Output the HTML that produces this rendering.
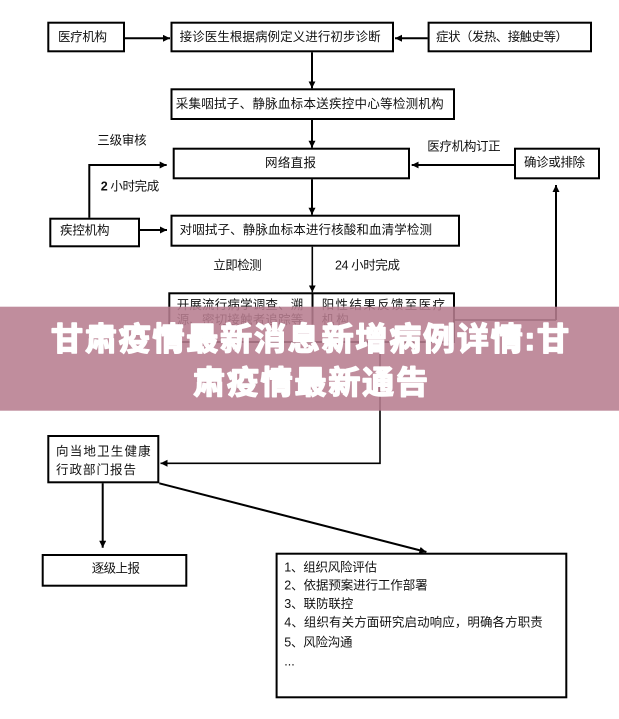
<!DOCTYPE html>
<html><head><meta charset="utf-8"><style>
html,body{margin:0;padding:0;background:#fff;}
svg{display:block;}
.t{font-family:"Liberation Sans","Noto Sans CJK SC",sans-serif;font-size:12.5px;fill:#111;dominant-baseline:central;}
.b{fill:none;stroke:#000;stroke-width:2;}
.l{fill:none;stroke:#000;stroke-width:2;}
.ttl{font-family:"Liberation Sans","Noto Sans CJK SC",sans-serif;font-size:32px;font-weight:bold;fill:#fff;stroke:#fff;stroke-width:1.5px;stroke-linejoin:round;dominant-baseline:central;}
</style></head><body>
<svg width="619" height="719" viewBox="0 0 619 719" xmlns="http://www.w3.org/2000/svg">
<defs>
<marker id="a" markerUnits="userSpaceOnUse" markerWidth="8" markerHeight="8" refX="7" refY="3.5" orient="auto">
<path d="M0,0 L7,3.5 L0,7 z" fill="#000"/>
</marker>
</defs>
<rect x="0" y="0" width="619" height="719" fill="#fff"/>

<!-- boxes -->
<rect class="b" x="48.3" y="22.7" width="75.7" height="28.6"/>
<text class="t" x="58" y="37" textLength="49" lengthAdjust="spacing">医疗机构</text>

<rect class="b" x="171.5" y="22.7" width="221.5" height="28.6"/>
<text class="t" x="179.6" y="37" textLength="201" lengthAdjust="spacing">接诊医生根据病例定义进行初步诊断</text>

<rect class="b" x="428.6" y="22.7" width="162.4" height="28.6"/>
<text class="t" x="436" y="37" textLength="132" lengthAdjust="spacing">症状（发热、接触史等）</text>

<rect class="b" x="171.5" y="89.3" width="282.5" height="29.7"/>
<text class="t" x="175.7" y="104" textLength="268" lengthAdjust="spacing">采集咽拭子、静脉血标本送疾控中心等检测机构</text>

<rect class="b" x="173.7" y="148.7" width="235.3" height="29.6"/>
<text class="t" x="265" y="163" textLength="51" lengthAdjust="spacing">网络直报</text>

<rect class="b" x="515" y="148.7" width="84" height="29.6"/>
<text class="t" x="524" y="162.7" textLength="61" lengthAdjust="spacing">确诊或排除</text>

<rect class="b" x="50.3" y="218.7" width="88.7" height="27.6"/>
<text class="t" x="60" y="230.7" textLength="49.5" lengthAdjust="spacing">疾控机构</text>

<rect class="b" x="171.5" y="215.7" width="287.5" height="30"/>
<text class="t" x="179.6" y="230" textLength="252.4" lengthAdjust="spacing">对咽拭子、静脉血标本进行核酸和血清学检测</text>

<!-- labels -->
<text class="t" x="97.3" y="140.7" textLength="49.4" lengthAdjust="spacing">三级审核</text>
<text class="t" x="100.7" y="186.7" textLength="58.6" lengthAdjust="spacing"><tspan font-weight="bold">2</tspan> 小时完成</text>
<text class="t" x="427.3" y="146.7" textLength="73.4" lengthAdjust="spacing">医疗机构订正</text>
<text class="t" x="213.3" y="265.7" textLength="48.4" lengthAdjust="spacing">立即检测</text>
<text class="t" x="335" y="265.7" textLength="65" lengthAdjust="spacing">24 小时完成</text>

<!-- connectors top -->
<line class="l" x1="125" y1="38.3" x2="170" y2="38.3" marker-end="url(#a)"/>
<line class="l" x1="427.6" y1="38.3" x2="395" y2="38.3" marker-end="url(#a)"/>
<line class="l" x1="312" y1="52.3" x2="312" y2="88.3" marker-end="url(#a)"/>
<line class="l" x1="312" y1="120" x2="312" y2="147.7" marker-end="url(#a)"/>
<line class="l" x1="312" y1="179.3" x2="312" y2="214.7" marker-end="url(#a)"/>
<polyline class="l" points="89.3,217.7 89.3,165 166.7,165" marker-end="url(#a)"/>
<line class="l" x1="140" y1="230" x2="167" y2="230" marker-end="url(#a)"/>
<line class="l" x1="514" y1="165" x2="411.7" y2="165" marker-end="url(#a)"/>
<line class="l" x1="556" y1="320" x2="556" y2="185" marker-end="url(#a)"/>
<line class="l" x1="455" y1="320" x2="556" y2="320" style="stroke-width:1.5"/>
<line class="l" x1="312.3" y1="246.7" x2="312.3" y2="292.3" style="stroke-width:1.6" marker-end="url(#a)"/>

<!-- split box -->
<rect class="b" x="169.3" y="293.3" width="284.7" height="48.7"/>
<line class="l" x1="312.5" y1="293" x2="312.5" y2="342"/>
<text class="t" x="176.7" y="305" textLength="126.6" lengthAdjust="spacing">开展流行病学调查、溯</text>
<text class="t" x="176.7" y="320" textLength="126.6" lengthAdjust="spacing">源、密切接触者追踪等</text>
<text class="t" x="321.7" y="305" textLength="123.3" lengthAdjust="spacing">阳性结果反馈至医疗</text>
<text class="t" x="321.7" y="320" textLength="27" lengthAdjust="spacing">机构</text>

<!-- lower connectors -->
<polyline class="l" points="380,343 380,463.3 160.5,463.3" style="stroke-width:1.6" marker-end="url(#a)"/>
<line class="l" x1="102.7" y1="483.3" x2="102.7" y2="547.7" marker-end="url(#a)"/>
<line class="l" x1="159.3" y1="483.3" x2="426.4" y2="552" marker-end="url(#a)"/>

<rect class="b" x="48.3" y="436" width="110" height="46.3"/>
<text class="t" x="56" y="451.7" textLength="94.7" lengthAdjust="spacing">向当地卫生健康</text>
<text class="t" x="56" y="470" textLength="80" lengthAdjust="spacing">行政部门报告</text>

<rect class="b" x="42.7" y="555" width="143.6" height="30.7"/>
<text class="t" x="91.7" y="568.3" textLength="48.3" lengthAdjust="spacing">逐级上报</text>

<rect class="b" x="276.6" y="553.7" width="289.7" height="143.6"/>
<text class="t" x="284.3" y="567.3" textLength="92.7" lengthAdjust="spacing">1、组织风险评估</text>
<text class="t" x="284.3" y="585.7" textLength="143.3" lengthAdjust="spacing">2、依据预案进行工作部署</text>
<text class="t" x="284.3" y="604" textLength="69" lengthAdjust="spacing">3、联防联控</text>
<text class="t" x="284.3" y="622.7" textLength="258.5" lengthAdjust="spacing">4、组织有关方面研究启动响应，明确各方职责</text>
<text class="t" x="284.3" y="642.3" textLength="68.2" lengthAdjust="spacing">5、风险沟通</text>
<text class="t" x="284.3" y="661.7">...</text>

<!-- banner -->
<rect x="0" y="306.7" width="619" height="104" fill="rgba(183,125,143,0.88)"/>
<text class="ttl" x="51" y="339" textLength="518" lengthAdjust="spacing">甘肃疫情最新消息新增病例详情:甘</text>
<text class="ttl" x="193" y="382.5" textLength="235" lengthAdjust="spacing">肃疫情最新通告</text>
</svg>
</body></html>
